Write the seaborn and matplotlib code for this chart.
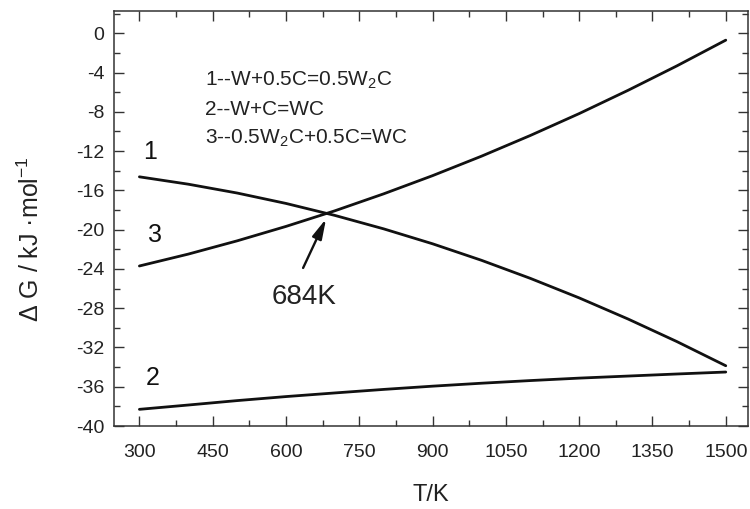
import matplotlib
matplotlib.use("Agg")
import matplotlib.pyplot as plt
from matplotlib.ticker import MultipleLocator
import pandas as pd
import seaborn as sns

# Temperature grid (K)
temperature = [300, 400, 500, 600, 700, 800, 900, 1000, 1100, 1200, 1300, 1400, 1500]

# Gibbs free energy change (kJ/mol) for each reaction
dg_w2c = [-14.62, -15.37, -16.27, -17.33, -18.55, -19.92, -21.44, -23.12, -24.96,
          -26.95, -29.10, -31.40, -33.86]
dg_wc = [-38.30, -37.86, -37.41, -37.00, -36.63, -36.27, -35.94, -35.64, -35.37,
         -35.12, -34.91, -34.70, -34.50]
dg_w2c_to_wc = [-23.70, -22.49, -21.14, -19.67, -18.08, -16.35, -14.50, -12.52,
                -10.41, -8.18, -5.81, -3.32, -0.70]

curve_ids = ["1", "2", "3"]
reactions = [
    r"1--W+0.5C=0.5W$_2$C",
    "2--W+C=WC",
    r"3--0.5W$_2$C+0.5C=WC",
]
crossing_T = 684
crossing_label = "684K"

x_ticks = [300, 450, 600, 750, 900, 1050, 1200, 1350, 1500]
y_ticks = [0, -4, -8, -12, -16, -20, -24, -28, -32, -36, -40]

sns.set_theme(style="ticks")
plt.rcParams["font.family"] = ["Liberation Sans", "DejaVu Sans"]
plt.rcParams["mathtext.fontset"] = "custom"
plt.rcParams["mathtext.rm"] = "Liberation Sans"
plt.rcParams["mathtext.it"] = "Liberation Sans:italic"

frames = []
for cid, vals in zip(curve_ids, [dg_w2c, dg_wc, dg_w2c_to_wc]):
    frames.append(pd.DataFrame({"T": temperature, "dG": vals, "curve": cid}))
df = pd.concat(frames, ignore_index=True)

fig = plt.figure(figsize=(7.5, 5.09), dpi=100)
ax = fig.add_axes([0.152, 0.163, 0.845, 0.816])

sns.lineplot(data=df, x="T", y="dG", hue="curve", estimator=None,
             palette=["#111111"] * 3, linewidth=2.0, legend=False, ax=ax)

ax.set_xlim(248, 1545)
ax.set_ylim(-40, 2.3)
ax.set_xticks(x_ticks)
ax.xaxis.set_minor_locator(MultipleLocator(75))
ax.set_yticks(y_ticks)
ax.yaxis.set_minor_locator(MultipleLocator(2))
ax.set_xticklabels([str(t) for t in x_ticks])
ax.set_yticklabels([str(t) for t in y_ticks])

ax.tick_params(which="both", direction="in", top=True, right=True,
               color="#333333", width=1.0)
ax.tick_params(which="major", length=7, labelsize=14, labelcolor="#222222")
ax.tick_params(axis="x", which="major", pad=13)
ax.tick_params(axis="y", which="major", pad=7)
ax.tick_params(which="minor", length=4)
for s in ax.spines.values():
    s.set_linewidth(1.1)
    s.set_color("#333333")
    s.set_visible(True)

ax.set_xlabel("T/K", fontsize=17, color="#222222")
ax.xaxis.set_label_coords(0.5, -0.14)
ax.set_ylabel("Δ G / kJ ·mol$^{-1}$", fontsize=18, color="#222222")
ax.yaxis.set_label_coords(-0.11, 0.45)

# curve numbers
ax.text(307, -12.1, curve_ids[0], fontsize=18, ha="left", va="center", color="#111111")
ax.text(312, -35.1, curve_ids[1], fontsize=18, ha="left", va="center", color="#111111")
ax.text(318, -20.5, curve_ids[2], fontsize=18, ha="left", va="center", color="#111111")

# reaction key
for i, r in enumerate(reactions):
    ax.text(434, -4.8 - 2.95 * i, r, fontsize=15, ha="left", va="center",
            color="#222222")

# crossing point annotation
ax.annotate("", xy=(crossing_T - 2, -18.9), xytext=(635, -23.9),
            arrowprops=dict(arrowstyle="-|>,head_length=1.0,head_width=0.25",
                            color="#111111", lw=1.7, shrinkA=0, shrinkB=0))
ax.text(636, -26.9, crossing_label, fontsize=20, ha="center", va="center",
        color="#222222")

fig.savefig("out.png", dpi=100)
